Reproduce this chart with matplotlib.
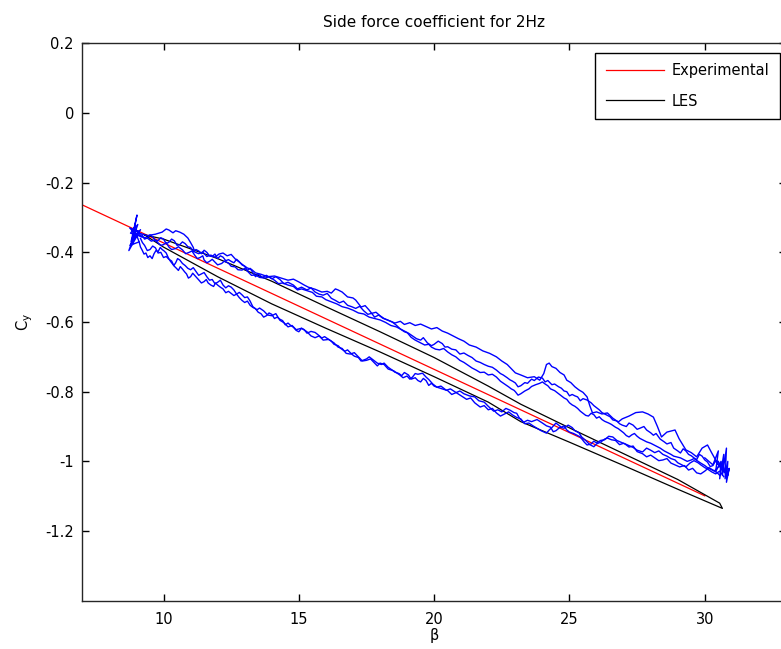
import matplotlib
matplotlib.use('Agg')
import matplotlib.pyplot as plt

plt.rcParams['font.family'] = ['DejaVu Sans']
plt.rcParams['axes.unicode_minus'] = False

# Experimental (straight fit line)
exp_beta = [7.0, 30.0]
exp_cy = [-0.264, -1.099]

# LES loop: upper branch going out, lower branch coming back
les_up_beta = [9.3, 10, 12, 14, 16, 18, 20, 22, 23.2, 25, 27, 29, 30.55, 30.65]
les_up_cy = [-0.35, -0.362, -0.418, -0.483, -0.556, -0.628, -0.702, -0.784, -0.836, -0.904, -0.978, -1.052, -1.12, -1.135]
les_lo_beta = [30.65, 29, 27, 25, 23.2, 22, 20, 18, 16, 14, 12, 10, 9.3]
les_lo_cy = [-1.135, -1.08, -1.012, -0.945, -0.886, -0.83, -0.757, -0.686, -0.618, -0.548, -0.47, -0.385, -0.35]

# measured signal, several cycles (traced strands)
u1_beta = [9.1, 9.4, 9.7, 9.95, 10.1, 10.2, 10.35, 10.45, 10.6, 10.75, 10.9, 11.0, 11.1, 11.15, 11.3, 11.45,
           11.6, 11.75, 11.9, 12.05, 12.2, 12.35, 12.5, 12.65, 12.8, 12.95, 13.1, 13.25, 13.4, 13.6, 13.85, 14.1,
           14.35, 14.6, 14.8, 15.0, 15.2, 15.35, 15.6, 15.85, 16.05, 16.2, 16.35, 16.45, 16.6, 16.8, 17.0, 17.1,
           17.3, 17.45, 17.6, 17.8, 17.95, 18.1, 18.3, 18.55, 18.75, 18.9, 19.1, 19.3, 19.5, 19.7, 19.9, 20.1,
           20.3, 20.5, 20.7, 20.9, 21.1, 21.3, 21.55, 21.8, 22.05, 22.3, 22.5, 22.7, 22.85, 23.0, 23.2, 23.45,
           23.7, 23.9, 24.05, 24.15, 24.25, 24.35, 24.5, 24.65, 24.8, 24.9, 25.05, 25.2, 25.35, 25.5, 25.65, 25.75,
           25.85, 26.0, 26.2, 26.4, 26.6, 26.8, 26.95, 27.2, 27.45, 27.7, 27.9, 28.1, 28.25, 28.4, 28.6, 28.9,
           29.05, 29.3, 29.5, 29.7, 29.9, 30.1, 30.25, 30.4, 30.55, 30.7, 30.8]
u1_cy = [-0.345, -0.352, -0.348, -0.342, -0.333, -0.336, -0.344, -0.338, -0.342, -0.348, -0.359, -0.372, -0.386, -0.399, -0.404, -0.399,
         -0.412, -0.408, -0.414, -0.405, -0.402, -0.410, -0.406, -0.419, -0.428, -0.437, -0.445, -0.449, -0.459, -0.463, -0.470, -0.468,
         -0.474, -0.480, -0.477, -0.485, -0.494, -0.500, -0.506, -0.514, -0.512, -0.517, -0.505, -0.508, -0.514, -0.528, -0.531, -0.537,
         -0.557, -0.553, -0.566, -0.586, -0.580, -0.589, -0.595, -0.603, -0.598, -0.607, -0.602, -0.610, -0.606, -0.613, -0.620, -0.616,
         -0.626, -0.632, -0.640, -0.648, -0.655, -0.666, -0.672, -0.683, -0.690, -0.700, -0.712, -0.722, -0.734, -0.746, -0.752, -0.760,
         -0.757, -0.767, -0.748, -0.722, -0.718, -0.728, -0.733, -0.745, -0.752, -0.767, -0.774, -0.786, -0.795, -0.802, -0.815, -0.840,
         -0.861, -0.858, -0.864, -0.861, -0.876, -0.887, -0.878, -0.870, -0.860, -0.858, -0.864, -0.873, -0.900, -0.930, -0.916, -0.910,
         -0.935, -0.967, -0.975, -0.987, -0.962, -0.953, -0.975, -0.996, -1.008, -1.016, -1.045]

u2_beta = [9.2, 9.3, 9.4, 9.5, 9.6, 9.7, 9.8, 9.9, 10.0, 10.1, 10.2, 10.3, 10.4, 10.5, 10.6, 10.7,
           10.8, 10.9, 11.0, 11.1, 11.2, 11.3, 11.4, 11.5, 11.6, 11.7, 11.8, 11.9, 12.0, 12.1, 12.2, 12.3,
           12.4, 12.5, 12.6, 12.7, 12.8, 12.9, 13.0, 13.1, 13.2, 13.3, 13.4, 13.5, 13.65, 13.8, 14.0, 14.15,
           14.3, 14.45, 14.6, 14.8, 14.95, 15.1, 15.3, 15.45, 15.6, 15.75, 15.9, 16.05, 16.2, 16.35, 16.5, 16.65,
           16.8, 16.95, 17.1, 17.25, 17.4, 17.55, 17.7, 17.85, 18.0, 18.15, 18.3, 18.45, 18.6, 18.75, 18.9, 19.05,
           19.2, 19.35, 19.5, 19.6, 19.75, 19.9, 20.0, 20.15, 20.3, 20.4, 20.5, 20.65, 20.8, 20.95, 21.1, 21.25,
           21.4, 21.55, 21.7, 21.85, 22.0, 22.15, 22.3, 22.45, 22.55, 22.7, 22.8, 22.9, 23.0, 23.1, 23.2, 23.35,
           23.45, 23.6, 23.7, 23.85, 24.0, 24.1, 24.2, 24.35, 24.45, 24.6, 24.7, 24.8, 24.9, 25.0, 25.1, 25.2,
           25.3, 25.4, 25.5, 25.65, 25.8, 25.9, 26.0, 26.1, 26.2, 26.35, 26.5, 26.6, 26.75, 26.85, 26.95, 27.1,
           27.2, 27.35, 27.5, 27.6, 27.75, 27.85, 28.0, 28.1, 28.2, 28.35, 28.5, 28.6, 28.75, 28.85, 29.0, 29.1,
           29.2, 29.3, 29.4, 29.5, 29.6, 29.7, 29.8, 29.9, 30.0, 30.1, 30.2, 30.3, 30.4, 30.5, 30.6, 30.7]
u2_cy = [-0.350, -0.362, -0.359, -0.350, -0.355, -0.368, -0.366, -0.358, -0.362, -0.375, -0.371, -0.362, -0.367, -0.380, -0.378, -0.370,
         -0.375, -0.384, -0.386, -0.398, -0.392, -0.396, -0.404, -0.394, -0.400, -0.410, -0.412, -0.405, -0.418, -0.410, -0.414, -0.424,
         -0.421, -0.426, -0.430, -0.420, -0.427, -0.436, -0.440, -0.452, -0.446, -0.458, -0.470, -0.462, -0.472, -0.466, -0.476, -0.470,
         -0.478, -0.490, -0.486, -0.494, -0.505, -0.500, -0.508, -0.502, -0.514, -0.520, -0.523, -0.518, -0.532, -0.538, -0.545, -0.540,
         -0.552, -0.556, -0.561, -0.555, -0.568, -0.578, -0.575, -0.572, -0.582, -0.590, -0.595, -0.600, -0.609, -0.620, -0.628, -0.632,
         -0.640, -0.648, -0.652, -0.645, -0.660, -0.668, -0.664, -0.655, -0.662, -0.672, -0.671, -0.678, -0.680, -0.692, -0.689, -0.696,
         -0.702, -0.712, -0.716, -0.722, -0.727, -0.730, -0.738, -0.748, -0.752, -0.760, -0.766, -0.770, -0.775, -0.786, -0.783, -0.774,
         -0.776, -0.764, -0.768, -0.758, -0.761, -0.772, -0.768, -0.780, -0.778, -0.786, -0.790, -0.798, -0.800, -0.812, -0.808, -0.812,
         -0.815, -0.826, -0.820, -0.824, -0.832, -0.840, -0.846, -0.852, -0.860, -0.866, -0.872, -0.881, -0.884, -0.892, -0.896, -0.900,
         -0.890, -0.896, -0.908, -0.905, -0.900, -0.910, -0.918, -0.925, -0.920, -0.936, -0.944, -0.950, -0.946, -0.962, -0.970, -0.976,
         -0.964, -0.970, -0.980, -0.984, -0.990, -0.995, -0.980, -0.985, -0.996, -1.002, -1.015, -1.012, -0.998, -1.000, -1.018, -1.030]

u3_beta = [9.05, 9.2, 9.4, 9.55, 9.7, 9.8, 9.9, 10.0, 10.1, 10.2, 10.3, 10.45, 10.55, 10.7, 10.82, 10.95,
           11.05, 11.15, 11.25, 11.35, 11.45, 11.5, 11.6, 11.7, 11.8, 11.9, 12.0, 12.15, 12.25, 12.4, 12.5, 12.65,
           12.75, 12.9, 13.0, 13.15, 13.25, 13.4, 13.55, 13.75, 13.9, 14.1, 14.25, 14.4, 14.6, 14.8, 14.95, 15.1,
           15.3, 15.5, 15.65, 15.85, 16.0, 16.2, 16.4, 16.6, 16.8, 17.0, 17.2, 17.4, 17.6, 17.8, 18.0, 18.2,
           18.4, 18.6, 18.8, 19.0, 19.15, 19.3, 19.5, 19.65, 19.8, 19.9, 20.05, 20.2, 20.35, 20.5, 20.65, 20.8,
           20.95, 21.1, 21.25, 21.4, 21.55, 21.7, 21.85, 22.0, 22.15, 22.3, 22.45, 22.6, 22.75, 22.85, 22.95, 23.0,
           23.1, 23.2, 23.35, 23.5, 23.6, 23.75, 23.9, 24.0, 24.1, 24.2, 24.3, 24.45, 24.6, 24.7, 24.8, 24.9,
           25.0, 25.1, 25.2, 25.3, 25.4, 25.5, 25.6, 25.7, 25.8, 25.9, 26.0, 26.1, 26.2, 26.3, 26.45, 26.55,
           26.7, 26.8, 26.9, 27.0, 27.1, 27.2, 27.3, 27.4, 27.5, 27.6, 27.75, 27.85, 28.0, 28.1, 28.25, 28.35,
           28.5, 28.6, 28.75, 28.85, 29.0, 29.1, 29.25, 29.35, 29.5, 29.6, 29.75, 29.85, 30.0, 30.1, 30.25, 30.35,
           30.5, 30.6, 30.7, 30.8]
u3_cy = [-0.350, -0.356, -0.359, -0.368, -0.364, -0.373, -0.380, -0.378, -0.372, -0.385, -0.392, -0.389, -0.384, -0.393, -0.404, -0.400,
         -0.396, -0.408, -0.418, -0.415, -0.410, -0.422, -0.430, -0.426, -0.420, -0.428, -0.436, -0.432, -0.425, -0.431, -0.440, -0.442,
         -0.450, -0.451, -0.446, -0.458, -0.466, -0.465, -0.472, -0.474, -0.470, -0.480, -0.490, -0.488, -0.494, -0.498, -0.508, -0.505,
         -0.510, -0.515, -0.526, -0.528, -0.536, -0.542, -0.548, -0.556, -0.560, -0.566, -0.574, -0.577, -0.586, -0.590, -0.594, -0.601,
         -0.610, -0.614, -0.622, -0.630, -0.644, -0.652, -0.660, -0.666, -0.664, -0.672, -0.678, -0.680, -0.676, -0.686, -0.694, -0.700,
         -0.710, -0.716, -0.724, -0.732, -0.738, -0.745, -0.744, -0.752, -0.750, -0.758, -0.770, -0.778, -0.786, -0.792, -0.796, -0.800,
         -0.810, -0.806, -0.798, -0.792, -0.785, -0.780, -0.776, -0.772, -0.778, -0.783, -0.792, -0.797, -0.806, -0.812, -0.818, -0.822,
         -0.832, -0.838, -0.842, -0.848, -0.856, -0.862, -0.868, -0.870, -0.862, -0.866, -0.876, -0.872, -0.880, -0.885, -0.890, -0.894,
         -0.902, -0.906, -0.912, -0.918, -0.926, -0.930, -0.924, -0.920, -0.928, -0.934, -0.940, -0.944, -0.948, -0.952, -0.958, -0.962,
         -0.970, -0.974, -0.980, -0.985, -0.988, -0.990, -0.996, -1.000, -0.996, -0.992, -1.000, -1.005, -1.012, -1.018, -1.024, -1.028,
         -1.016, -1.010, -1.022, -1.035]

l1_beta = [9.1, 9.15, 9.2, 9.28, 9.35, 9.42, 9.5, 9.58, 9.65, 9.72, 9.8, 9.88, 9.95, 10.02, 10.1, 10.18,
           10.25, 10.32, 10.4, 10.48, 10.55, 10.62, 10.7, 10.78, 10.85, 10.92, 11.0, 11.08, 11.15, 11.22, 11.3, 11.4,
           11.5, 11.58, 11.65, 11.75, 11.85, 11.92, 12.0, 12.1, 12.2, 12.3, 12.4, 12.5, 12.6, 12.7, 12.8, 12.9,
           13.0, 13.1, 13.2, 13.3, 13.4, 13.5, 13.6, 13.7, 13.8, 13.9, 14.0, 14.1, 14.2, 14.3, 14.4, 14.5,
           14.6, 14.7, 14.8, 14.9, 15.0, 15.1, 15.2, 15.3, 15.45, 15.6, 15.7, 15.85, 15.95, 16.1, 16.2, 16.3,
           16.45, 16.55, 16.7, 16.8, 16.95, 17.05, 17.2, 17.3, 17.5, 17.6, 17.8, 17.9, 18.05, 18.15, 18.3, 18.45,
           18.55, 18.7, 18.8, 18.9, 19.05, 19.15, 19.3, 19.4, 19.5, 19.6, 19.7, 19.8, 19.9, 20.0, 20.1, 20.3,
           20.5, 20.65, 20.8, 20.95, 21.1, 21.3, 21.5, 21.65, 21.85, 22.0, 22.2, 22.35, 22.5, 22.65, 22.8, 22.95,
           23.05, 23.15, 23.3, 23.45, 23.6, 23.8, 24.0, 24.15, 24.3, 24.4, 24.5, 24.65, 24.8, 24.95, 25.1, 25.2,
           25.35, 25.45, 25.6, 25.75, 25.9, 26.0, 26.15, 26.3, 26.4, 26.55, 26.7, 26.85, 27.0, 27.2, 27.35, 27.5,
           27.7, 27.85, 28.0, 28.15, 28.3, 28.45, 28.6, 28.75, 28.9, 29.0, 29.1, 29.2, 29.3, 29.45, 29.6, 29.75,
           29.85, 30.0, 30.1, 30.25, 30.4, 30.55, 30.7]
l1_cy = [-0.370, -0.385, -0.392, -0.405, -0.402, -0.415, -0.410, -0.418, -0.404, -0.395, -0.398, -0.386, -0.392, -0.396, -0.402, -0.416,
         -0.425, -0.432, -0.440, -0.446, -0.452, -0.441, -0.448, -0.456, -0.462, -0.474, -0.470, -0.460, -0.466, -0.472, -0.479, -0.488,
         -0.484, -0.478, -0.488, -0.494, -0.498, -0.488, -0.494, -0.500, -0.505, -0.516, -0.512, -0.518, -0.524, -0.520, -0.530, -0.538,
         -0.544, -0.540, -0.552, -0.558, -0.562, -0.572, -0.576, -0.586, -0.582, -0.574, -0.578, -0.590, -0.586, -0.592, -0.596, -0.608,
         -0.603, -0.610, -0.615, -0.624, -0.628, -0.618, -0.622, -0.632, -0.627, -0.630, -0.636, -0.646, -0.642, -0.650, -0.655, -0.664,
         -0.668, -0.676, -0.684, -0.680, -0.692, -0.698, -0.702, -0.712, -0.706, -0.700, -0.712, -0.718, -0.722, -0.718, -0.730, -0.738,
         -0.744, -0.748, -0.754, -0.745, -0.752, -0.764, -0.760, -0.768, -0.772, -0.762, -0.768, -0.782, -0.776, -0.784, -0.787, -0.792,
         -0.797, -0.808, -0.803, -0.798, -0.806, -0.812, -0.815, -0.826, -0.830, -0.842, -0.856, -0.852, -0.858, -0.848, -0.853, -0.860,
         -0.862, -0.876, -0.888, -0.882, -0.886, -0.880, -0.890, -0.898, -0.902, -0.915, -0.912, -0.902, -0.905, -0.896, -0.903, -0.912,
         -0.918, -0.930, -0.940, -0.952, -0.958, -0.950, -0.945, -0.936, -0.933, -0.938, -0.940, -0.952, -0.948, -0.955, -0.960, -0.968,
         -0.973, -0.962, -0.968, -0.975, -0.970, -0.980, -0.985, -0.992, -0.996, -1.004, -1.008, -1.012, -1.016, -1.005, -0.998, -1.004,
         -1.010, -1.018, -1.022, -1.030, -1.036, -1.028, -1.044]

l2_beta = [9.15, 9.22, 9.3, 9.4, 9.5, 9.6, 9.7, 9.8, 9.9, 10.0, 10.1, 10.2, 10.3, 10.38, 10.45, 10.52,
           10.6, 10.7, 10.8, 10.9, 11.0, 11.1, 11.2, 11.3, 11.4, 11.5, 11.6, 11.7, 11.8, 11.9, 12.0, 12.1,
           12.2, 12.3, 12.4, 12.5, 12.6, 12.7, 12.8, 12.9, 13.0, 13.1, 13.2, 13.3, 13.45, 13.55, 13.7, 13.85,
           14.0, 14.15, 14.3, 14.45, 14.6, 14.75, 14.9, 15.1, 15.3, 15.45, 15.6, 15.75, 15.9, 16.1, 16.3, 16.45,
           16.6, 16.75, 16.9, 17.05, 17.2, 17.35, 17.5, 17.65, 17.8, 17.9, 18.0, 18.15, 18.3, 18.5, 18.73, 18.85,
           19.0, 19.1, 19.2, 19.3, 19.4, 19.57, 19.7, 19.8, 19.95, 20.1, 20.25, 20.45, 20.6, 20.84, 21.0, 21.2,
           21.35, 21.5, 21.7, 21.85, 22.0, 22.15, 22.3, 22.45, 22.6, 22.75, 22.9, 23.05, 23.2, 23.35, 23.5, 23.65,
           23.8, 23.95, 24.15, 24.25, 24.35, 24.5, 24.6, 24.7, 24.8, 24.9, 25.0, 25.15, 25.3, 25.4, 25.55, 25.65,
           25.8, 25.9, 26.0, 26.15, 26.3, 26.45, 26.6, 26.75, 26.9, 27.05, 27.2, 27.35, 27.5, 27.7, 27.85, 28.0,
           28.15, 28.3, 28.45, 28.6, 28.75, 28.9, 29.07, 29.25, 29.4, 29.55, 29.7, 29.85, 30.0, 30.15, 30.3, 30.45,
           30.55]
l2_cy = [-0.360, -0.372, -0.380, -0.395, -0.392, -0.382, -0.387, -0.402, -0.400, -0.415, -0.412, -0.420, -0.425, -0.438, -0.430, -0.418,
         -0.422, -0.432, -0.438, -0.446, -0.450, -0.444, -0.455, -0.466, -0.462, -0.458, -0.470, -0.480, -0.478, -0.490, -0.486, -0.480,
         -0.494, -0.502, -0.496, -0.500, -0.508, -0.520, -0.515, -0.522, -0.530, -0.528, -0.540, -0.556, -0.565, -0.560, -0.568, -0.580,
         -0.582, -0.576, -0.595, -0.602, -0.614, -0.610, -0.622, -0.618, -0.628, -0.640, -0.645, -0.640, -0.652, -0.650, -0.660, -0.672,
         -0.676, -0.690, -0.692, -0.688, -0.700, -0.712, -0.710, -0.706, -0.718, -0.726, -0.718, -0.722, -0.735, -0.740, -0.752, -0.760,
         -0.755, -0.764, -0.758, -0.748, -0.750, -0.747, -0.758, -0.765, -0.778, -0.787, -0.784, -0.796, -0.792, -0.804, -0.812, -0.822,
         -0.818, -0.832, -0.844, -0.840, -0.852, -0.848, -0.861, -0.870, -0.864, -0.858, -0.867, -0.874, -0.878, -0.892, -0.890, -0.898,
         -0.905, -0.912, -0.919, -0.910, -0.903, -0.890, -0.896, -0.902, -0.898, -0.910, -0.916, -0.920, -0.926, -0.930, -0.945, -0.953,
         -0.950, -0.942, -0.947, -0.940, -0.938, -0.928, -0.930, -0.940, -0.945, -0.950, -0.959, -0.956, -0.972, -0.978, -0.987, -0.982,
         -0.990, -0.998, -0.996, -0.992, -1.005, -1.010, -1.016, -1.012, -1.025, -1.020, -1.033, -1.036, -1.028, -1.018, -1.025, -1.032,
         -1.040]

# noisy turn-around bursts at both ends of the sweep
start_beta = [9.0, 8.75, 9.1, 8.8, 9.02, 8.85, 9.15, 8.72, 9.05, 8.78, 9.2, 8.9, 9.1, 8.76, 9.0]
start_cy = [-0.35, -0.33, -0.34, -0.37, -0.293, -0.36, -0.335, -0.395, -0.32, -0.345, -0.355, -0.33, -0.37, -0.38, -0.35]
end_beta = [30.0, 30.3, 30.5, 30.4, 30.6, 30.55, 30.7, 30.65, 30.8, 30.75, 30.85, 30.8, 30.9, 30.85, 30.6, 30.4]
end_cy = [-0.99, -1.01, -0.97, -1.03, -1.00, -1.05, -0.98, -1.04, -0.962, -1.05, -1.00, -1.06, -1.02, -1.04, -1.02, -1.00]

fig = plt.figure(figsize=(7.81, 6.49), dpi=100)
ax = fig.add_axes([0.1054, 0.0744, 0.901, 0.8589])

ax.plot(exp_beta, exp_cy, color='#ff0000', lw=0.9, label='Experimental')
ax.plot(les_up_beta + les_lo_beta, les_up_cy + les_lo_cy, color='black', lw=0.9, label='LES')

for b, c in [(u1_beta, u1_cy), (u2_beta, u2_cy), (u3_beta, u3_cy), (l1_beta, l1_cy),
             (l2_beta, l2_cy), (start_beta, start_cy), (end_beta, end_cy)]:
    ax.plot(b, c, color='#0000ff', lw=1.0)

ax.set_xlim(7, 33)
ax.set_ylim(-1.4, 0.2)
ax.set_xticks([10, 15, 20, 25, 30])
ax.set_yticks([0.2, 0, -0.2, -0.4, -0.6, -0.8, -1, -1.2])
ax.set_yticklabels(['0.2', '0', '-0.2', '-0.4', '-0.6', '-0.8', '-1', '-1.2'])
ax.tick_params(direction='in', top=True, right=True, length=5, width=1, labelsize=10.5)
ax.tick_params(axis='x', pad=8)
ax.tick_params(axis='y', pad=6)
for s in ax.spines.values():
    s.set_linewidth(1)
    s.set_color('#262626')

ax.set_title('Side force coefficient for 2Hz', fontsize=11, pad=12)
ax.set_xlabel('β', fontsize=10.5, labelpad=1)
ax.set_ylabel(r'$\mathregular{C_y}$', fontsize=10.5, labelpad=7)

leg = ax.legend(loc='upper right', bbox_to_anchor=(0.9915, 0.9826), borderaxespad=0,
                fancybox=False, framealpha=1, edgecolor='black', fontsize=10.5,
                handlelength=4.0, handletextpad=0.55, labelspacing=1.05, borderpad=0.7)
leg.get_frame().set_linewidth(1)

fig.savefig('out.png', dpi=100)
